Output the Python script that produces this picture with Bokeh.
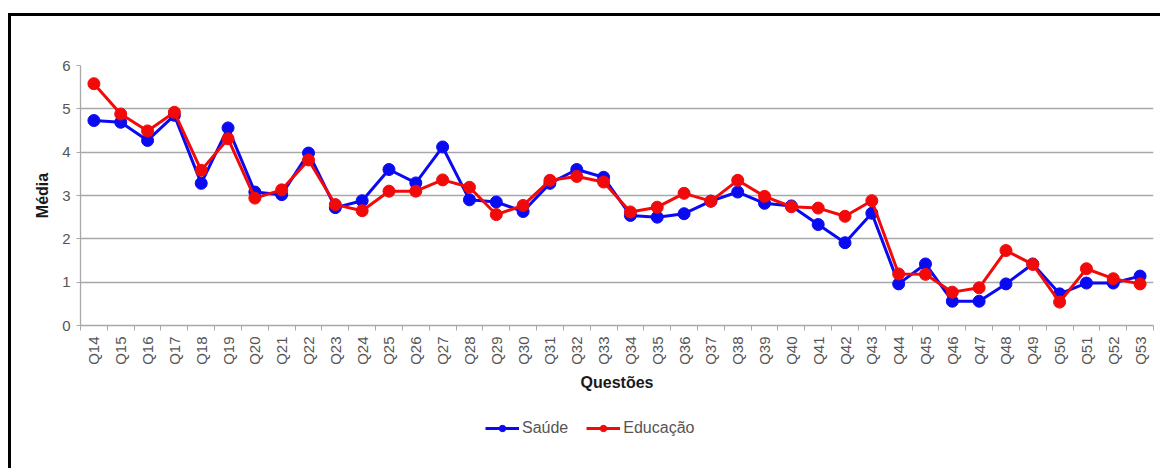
from bokeh.plotting import figure
from bokeh.layouts import column
from bokeh.models import (Range1d, FixedTicker, Legend, LegendItem)
from bokeh.embed import file_html
from bokeh.resources import INLINE
import math

# Mean score per question, by sector
questions = ["Q14", "Q15", "Q16", "Q17", "Q18", "Q19", "Q20", "Q21", "Q22", "Q23",
             "Q24", "Q25", "Q26", "Q27", "Q28", "Q29", "Q30", "Q31", "Q32", "Q33",
             "Q34", "Q35", "Q36", "Q37", "Q38", "Q39", "Q40", "Q41", "Q42", "Q43",
             "Q44", "Q45", "Q46", "Q47", "Q48", "Q49", "Q50", "Q51", "Q52", "Q53"]
saude = [4.73, 4.69, 4.27, 4.85, 3.28, 4.56, 3.08, 3.02, 3.98, 2.72,
         2.88, 3.60, 3.29, 4.12, 2.90, 2.85, 2.63, 3.28, 3.60, 3.42,
         2.54, 2.50, 2.58, 2.87, 3.08, 2.82, 2.76, 2.33, 1.91, 2.59,
         0.96, 1.42, 0.56, 0.56, 0.96, 1.42, 0.73, 0.98, 0.98, 1.14]
educacao = [5.58, 4.88, 4.49, 4.92, 3.58, 4.31, 2.94, 3.13, 3.82, 2.79,
            2.65, 3.10, 3.10, 3.36, 3.19, 2.56, 2.77, 3.35, 3.44, 3.31,
            2.62, 2.73, 3.05, 2.87, 3.35, 2.98, 2.74, 2.71, 2.52, 2.88,
            1.19, 1.18, 0.77, 0.87, 1.73, 1.41, 0.54, 1.31, 1.08, 0.96]
y_ticks = [0, 1, 2, 3, 4, 5, 6]
series_names = ["Saúde", "Educação"]

BLUE = "#0a0af2"
RED = "#f20a0a"
GRID = "#a8a8a8"
FONT = "Liberation Sans"

xs = [i + 0.5 for i in range(len(questions))]
boundaries = list(range(len(questions) + 1))

p = figure(width=1149, height=384, output_backend="svg", toolbar_location=None,
           x_range=Range1d(0, len(questions)), y_range=Range1d(0, 6),
           min_border_left=69, min_border_right=7, min_border_top=49,
           min_border_bottom=75)
p.outline_line_color = None
p.background_fill_color = "white"
p.border_fill_color = "white"

# horizontal grid only
p.xgrid.grid_line_color = None
p.ygrid.grid_line_color = GRID
p.ygrid.grid_line_width = 1.3
p.ygrid.ticker = FixedTicker(ticks=y_ticks)

# x axis: labels at category centres, tick marks at category boundaries
xa = p.xaxis[0]
xa.ticker = FixedTicker(ticks=xs, minor_ticks=boundaries)
xa.major_label_overrides = {x: q for x, q in zip(xs, questions)}
xa.major_label_orientation = math.pi / 2
xa.major_tick_out = 0
xa.major_tick_in = 0
xa.minor_tick_out = 5
xa.minor_tick_in = 0
xa.minor_tick_line_color = GRID
xa.axis_line_color = GRID
xa.axis_line_width = 1.3
xa.major_label_text_font = FONT
xa.major_label_text_font_size = "15px"
xa.major_label_text_color = "#555555"
xa.major_label_standoff = 6
xa.axis_label = "Questões"
xa.axis_label_text_font = FONT
xa.axis_label_text_font_size = "16px"
xa.axis_label_text_font_style = "bold"
xa.axis_label_text_color = "#1a1a1a"
xa.axis_label_standoff = 6

ya = p.yaxis[0]
ya.ticker = FixedTicker(ticks=y_ticks)
ya.major_tick_out = 4
ya.major_tick_in = 0
ya.minor_tick_out = 0
ya.minor_tick_in = 0
ya.major_tick_line_color = GRID
ya.axis_line_color = GRID
ya.axis_line_width = 1.3
ya.major_label_text_font = FONT
ya.major_label_text_font_size = "15px"
ya.major_label_text_color = "#555555"
ya.major_label_standoff = 6
ya.axis_label = "Média"
ya.axis_label_text_font = FONT
ya.axis_label_text_font_size = "16px"
ya.axis_label_text_font_style = "bold"
ya.axis_label_text_color = "#1a1a1a"
ya.axis_label_standoff = 8

p.line(xs, saude, line_color=BLUE, line_width=3)
p.scatter(xs, saude, size=12, fill_color=BLUE, line_color=BLUE)
p.line(xs, educacao, line_color=RED, line_width=3)
p.scatter(xs, educacao, size=12, fill_color=RED, line_color=RED)

# legend strip under the chart; its renderers carry the series but the
# strip's ranges keep them out of view, so only the legend shows
lg = figure(width=1149, height=68, output_backend="svg", toolbar_location=None,
            x_range=Range1d(0, 1), y_range=Range1d(100, 101),
            x_axis_type=None, y_axis_type=None,
            min_border_left=0, min_border_right=0, min_border_top=0,
            min_border_bottom=0)
lg.outline_line_color = None
lg.border_fill_color = "white"
items = []
for name, vals, color in zip(series_names, [saude, educacao], [BLUE, RED]):
    ln = lg.line(xs, vals, line_color=color, line_width=3)
    sc = lg.scatter(xs, vals, size=10, fill_color=color, line_color=color)
    items.append(LegendItem(label=name, renderers=[ln, sc]))

legend = Legend(items=items, orientation="horizontal", location=(405, 30))
legend.border_line_color = None
legend.background_fill_alpha = 0
legend.label_text_font = FONT
legend.label_text_font_size = "16px"
legend.label_text_color = "#555555"
legend.glyph_width = 34
legend.glyph_height = 16
legend.label_height = 20
legend.label_standoff = 3
legend.spacing = 18
legend.margin = 0
legend.padding = 4
lg.add_layout(legend, "center")

layout = column(p, lg, spacing=0,
                styles={"border-top": "3px solid black",
                        "border-left": "3px solid black",
                        "margin-left": "8px", "margin-top": "13px"})

open("out.html", "w").write(file_html(layout, INLINE))
